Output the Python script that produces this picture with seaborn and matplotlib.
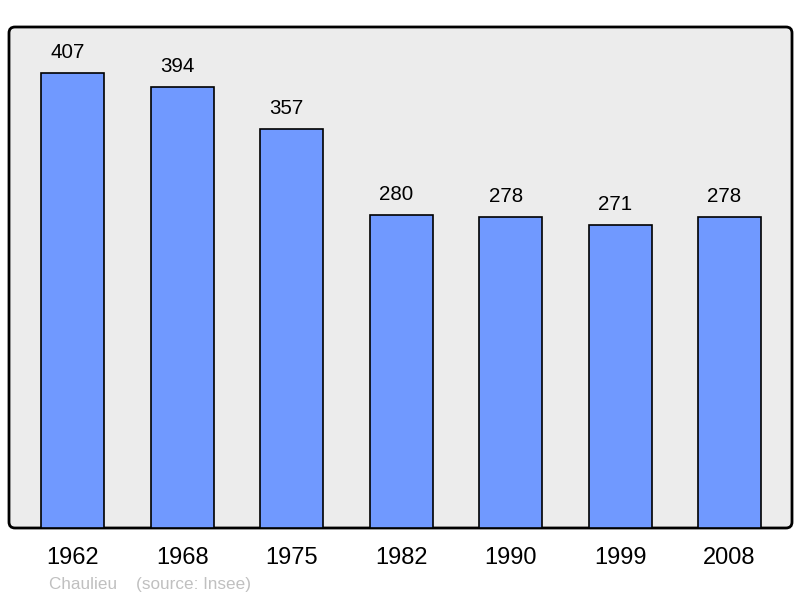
import matplotlib
matplotlib.use('Agg')
import matplotlib.pyplot as plt
import seaborn as sns
import pandas as pd
from matplotlib.patches import FancyBboxPatch

years = ['1962', '1968', '1975', '1982', '1990', '1999', '2008']
population = [407, 394, 357, 280, 278, 271, 278]

sns.set_style('white')
plt.rcParams['font.family'] = ['Liberation Sans', 'DejaVu Sans']

df = pd.DataFrame({'year': years, 'pop': population})

fig = plt.figure(figsize=(8, 5.98), dpi=100)
ax = fig.add_axes([9 / 800, 70 / 598, 783 / 800, 501 / 598])
ax.set_facecolor('none')

# rounded frame behind the bars
frame = FancyBboxPatch((0.09, 0.70), 7.83, 5.01,
                       boxstyle='round,pad=0,rounding_size=0.06',
                       transform=fig.dpi_scale_trans,
                       facecolor='#ececec', edgecolor='black', linewidth=2,
                       zorder=0, clip_on=False)
ax.add_patch(frame)

sns.barplot(data=df, x='year', y='pop', color='#7099ff', saturation=1,
            edgecolor='black', linewidth=1.2, width=0.575, ax=ax, zorder=2)

# value labels sit a little left of the bar centre, as in the original
bars = [p for p in ax.patches if p is not frame]
for bar, v in zip(bars, population):
    ax.annotate(str(v), (bar.get_x() + bar.get_width() / 2, bar.get_height()),
                xytext=(-3.6, 8), textcoords='offset points',
                ha='center', va='bottom', fontsize=14.8, color='black')

ax.set_xlim(-0.584, 6.571)
ax.set_ylim(0, 448)
ax.set_xlabel('')
ax.set_ylabel('')
ax.set_yticks([])
ax.tick_params(axis='x', length=0, pad=14, labelsize=17, labelcolor='black')
for s in ax.spines.values():
    s.set_visible(False)

fig.text(49 / 800, 1 - 584 / 598, 'Chaulieu    (source: Insee)',
         color='#c0c0c0', fontsize=12.3, va='center', ha='left')

fig.savefig('out.png', dpi=100)
